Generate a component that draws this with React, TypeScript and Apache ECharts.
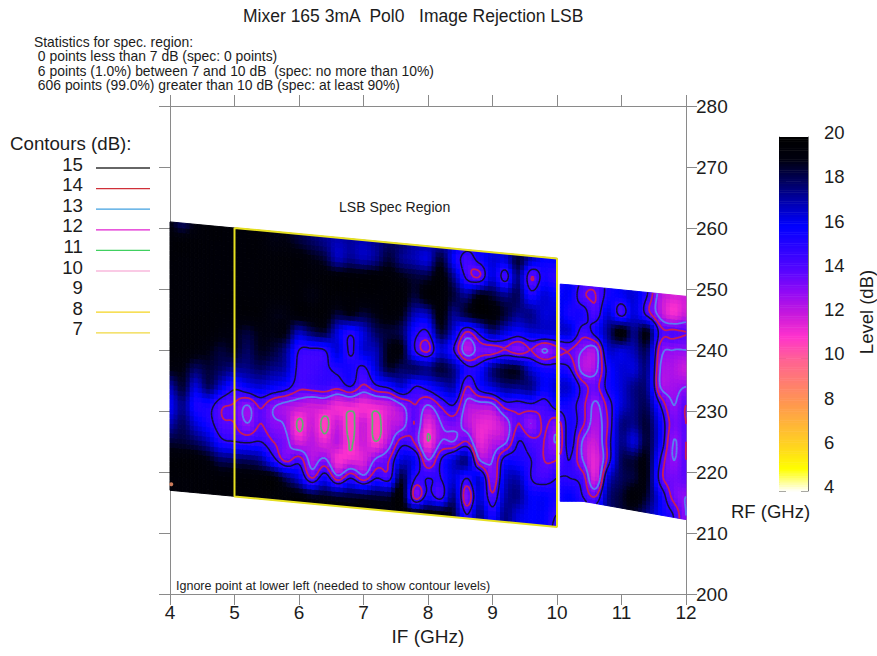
import React, { useEffect, useRef } from "react";
import * as echarts from "echarts";

const TITLE = "Mixer 165 3mA  Pol0   Image Rejection LSB";
const STATS = [
  "Statistics for spec. region:",
  " 0 points less than 7 dB (spec: 0 points)",
  " 6 points (1.0%) between 7 and 10 dB  (spec: no more than 10%)",
  " 606 points (99.0%) greater than 10 dB (spec: at least 90%)",
];
const LEGEND_TITLE = "Contours (dB):";
const legendLevels = [15, 14, 13, 12, 11, 10, 9, 8, 7];
const legendColors = ["#333333", "#d03038", "#40a0e0", "#e020d0", "#40d060", "#f8b8dc", "", "#f4d420", "#f0d840"];
const contourLevels = [15, 14, 13, 12, 11, 10];
const contourColors = ["#14103a", "#c81e58", "#5a7ff0", "#d028c8", "#5fb070", "#ffd0e4"];
const contourWidths = [1.5, 1.8, 1.8, 0.6, 1.7, 1.2];

const rfRows = [261, 258, 255, 252, 249, 246, 243, 240, 237, 234, 231, 228, 225, 222, 219, 216, 213, 210];
// columns: IF = 4.0, 4.2 ... 12.0
const r261 = [19,18,19,19.5,19.5,19.5,19.5,19.5,19,19,18.5,18,18,18,18,18,18,18,18,18,18,17,17,17,17,17,17,17,17,17,17,16,16,16,16,16,16,16,16,16,16];
const r258 = [19.5,19.5,19.5,19.5,19.5,19.5,19.5,19.5,19,19,18.5,18,17.5,17,17.3,17,17.5,18,18,17.5,17.5,17,17,16,16,16,16,17,17,17,17,15,15,15,16,16,16,16,15,15,15];
const r255 = [19.5,19.5,19.5,19.5,19.5,19.5,19.5,19.5,19.5,19.5,19.5,19,18.5,17,17.5,17,17.5,18.5,17.5,17,16.5,18.5,16,14.5,15.5,16.5,16.5,18.5,17,16,16,15,15,15,16,16,16,16,15,15,15];
const r252 = [19.5,19.5,19.5,19.5,19.5,19.5,19.5,19.5,19.5,19.5,19.5,19.5,19.5,19.5,19.5,19.5,19.5,19.5,19,18.5,18.5,19.5,17.5,14.7,14,16.5,14.5,17.5,14,15.5,15,16,15,14.5,15.5,16,16,15.5,13.5,13,13.5];
const r249 = [19.5,19.5,19.5,19.5,19.5,19.5,19.5,19.5,19.5,19.5,19.5,19,19.5,19.5,19.5,19.5,19.5,19.5,19.5,18.5,19.5,19.5,18.5,17.5,19,18.5,17.5,18,15.5,16.5,16,16,14.2,14,15.5,16,16.5,15,12.5,11.8,12];
const r246 = [19.5,19.5,19.5,19.5,19.5,19.5,19.5,19.5,19,19,19.5,19.5,19.5,18.5,19,18.5,19,19.5,19,17,17,19.5,17.5,18.5,19.5,19.5,18.5,17.5,17.5,16.5,16.5,15.5,15.5,14.3,16.5,14.5,16.5,14.5,12.5,11.2,12];
const r243 = [19.5,19.5,19.5,19.5,19.2,19,18.5,19,19,19,17,18,18.5,16.5,15.3,16.5,18,18.5,18,15.5,15,18.5,16.5,14,15.5,17.5,16.5,15.8,16.5,16.5,16.5,16.5,14.5,15.5,17.5,19.5,17.5,19,14.5,14.2,14];
const r240 = [19.5,19.5,19.3,19,18.5,18.8,18,18.8,18.5,17.5,15,14.8,15,16.5,14.8,16.5,17,19,19,15,13.8,16.5,15,12.3,13.5,13.5,14,13.3,14,12.9,13.7,14,13,12.7,16.5,16.5,17,18,13.5,13,13];
const r237 = [19,19,18,18.5,18,17.5,17.5,18,17.5,17,14.6,14.5,14.8,15.3,15.5,14.8,16.5,18.5,18,18,17.5,18.5,17.5,15.3,15.5,17.5,18.5,18.5,16.5,15.5,15.5,15,12.5,12.7,15.5,16.5,16.5,17.5,13,12.5,12];
const r234 = [17,18.5,16.5,18,16.5,15.3,16,16.5,16,15.5,14.3,14.4,14.6,14.3,15,13.8,14.8,15.3,16.5,15,15.5,16.5,17,14,15.5,16.5,17.5,17.5,17.5,16,16.5,16.5,14.5,13.7,15.5,16.5,17.5,17.5,13,12.7,13];
const r231 = [16,17.5,15.5,15.5,14.2,13.9,13,14.2,13.2,12.7,12.3,12,12,11.3,11.5,11.2,11.5,12,13,14,13,14.2,15,12.7,12.6,12.8,14.5,14.5,14.8,14.5,15.5,15.5,14.3,12.8,14.5,16.5,17.5,18,15,13,14];
const r228 = [17,18,16.5,15.5,14.2,14,13,14,13.2,12.8,10.8,12,10.7,12,10.7,12,10.7,12,12.5,14,11.5,13,13.5,12.5,11.5,11.5,12.5,14,13,14.2,13.5,15.5,14.2,12.5,14.2,17.5,17.5,18.5,16,13.5,14];
const r225 = [18.5,18.5,18,17,15.3,15,14.8,15,14,13.3,11.8,12.3,11.5,12.3,10.9,12,11,12.5,14.5,13.8,11,13,13,14,11.5,12.2,12.8,15,14.3,14,13,15.5,12.9,12,14.5,17.5,16.5,18.5,16,13,14];
const r222 = [19.5,19.5,19.5,19,18,18,18,17.5,15.5,13.7,14.5,12.5,13.2,11.2,11.5,11.7,13.2,14,16.5,16,13,15,16.5,17.5,13,13,15.5,15.5,15,14,14,15,13,11.5,14.5,18,18.5,19,15,13,14];
const r219 = [19.5,19.5,19.5,19.5,19.5,19.5,19.5,19.5,19.5,18,16.5,14,15.8,13.5,15,13.5,15,14.6,18.5,15,15,15,16.5,15,16.5,13.3,16.5,17,15,14.5,15,15,14.5,11.8,16.5,18,18.5,19,14.5,13.5,13.8];
const r216 = [19.5,19.5,19.5,19.5,19.5,19.5,19.5,19.5,19.5,19.5,19.5,18.8,18.8,18.5,18.5,18.5,18.5,18.5,19.5,13.5,15.5,14.5,17.5,13.2,16.5,14.2,17,17.5,16,16,15.5,16,15,14,17.5,18.5,19.5,18.5,16,13.7,13];
const r213 = [19.5,19.5,19.5,19.5,19.5,19.5,19.5,19.5,19.5,19.5,19.5,19.5,19.5,19.5,19.5,19.5,19.5,19.5,19.5,19.5,19.5,19.5,18.5,15,17.5,15.5,17.5,16.5,16,16,15,16,16,16,17.5,18.5,18.5,17.5,16,15,13];
const r210 = [19.5,19.5,19.5,19.5,19.5,19.5,19.5,19.5,19.5,19.5,19.5,19.5,19.5,19.5,19.5,19.5,19.5,19.5,19.5,19.5,19,18.5,18,16,17.5,16,17.5,16.5,16,16,14.5,16,16,16,17.5,18.5,18.5,17.5,16,15,13];
const levelRows = [r261, r258, r255, r252, r249, r246, r243, r240, r237, r234, r231, r228, r225, r222, r219, r216, r213, r210];

const IF_START = 4;
const IF_STEP = 0.2;

// Measured outline of the two scanned sections
const leftIF = [4, 10];
const leftTop = [261, 255];
const leftBottom = [217, 211.1];
const rightIF = [10.05, 10.4, 12];
const rightTop = [250.8, 250.5, 248.8];
const rightBottom = [215.2, 215.2, 212.2];

const specIF = [5, 10, 10, 5, 5];
const specRF = [260, 255, 211, 216, 260];
const ignorePoint = [4.02, 218];

const colorStops: [number, number[]][] = [
  [4, [255, 255, 255]],
  [5, [255, 255, 0]],
  [6, [255, 214, 30]],
  [8, [255, 150, 80]],
  [10, [255, 96, 150]],
  [11, [255, 50, 205]],
  [12, [200, 25, 220]],
  [13, [145, 10, 245]],
  [14, [85, 5, 255]],
  [16, [0, 0, 255]],
  [17, [0, 0, 180]],
  [18, [0, 0, 95]],
  [19, [0, 0, 15]],
  [20, [0, 0, 0]],
];

function colorOf(v: number) {
  if (v <= colorStops[0][0]) return "rgb(255,255,255)";
  for (let i = 1; i < colorStops.length; i++) {
    if (v <= colorStops[i][0]) {
      const [a, ca] = colorStops[i - 1];
      const [b, cb] = colorStops[i];
      const t = (v - a) / (b - a);
      return `rgb(${ca.map((c, k) => Math.round(c + (cb[k] - c) * t)).join(",")})`;
    }
  }
  return "rgb(0,0,0)";
}

function cr(p0: number, p1: number, p2: number, p3: number, t: number) {
  return 0.5 * (2 * p1 + (p2 - p0) * t + (2 * p0 - 5 * p1 + 4 * p2 - p3) * t * t + (3 * p1 - p0 - 3 * p2 + p3) * t * t * t);
}
function level(ifv: number, rf: number) {
  const nc = r261.length;
  const nr = rfRows.length;
  const fx = Math.max(0, Math.min(nc - 1.0001, (ifv - IF_START) / IF_STEP));
  const fy = Math.max(0, Math.min(nr - 1.0001, (rfRows[0] - rf) / (rfRows[0] - rfRows[1])));
  const ix = Math.floor(fx);
  const iy = Math.floor(fy);
  const tx = fx - ix;
  const ty = fy - iy;
  const g = (r: number, c: number) => levelRows[Math.max(0, Math.min(nr - 1, r))][Math.max(0, Math.min(nc - 1, c))];
  const row = (r: number) => cr(g(r, ix - 1), g(r, ix), g(r, ix + 1), g(r, ix + 2), tx);
  return cr(row(iy - 1), row(iy), row(iy + 1), row(iy + 2), ty);
}
function lerpTable(xs: number[], ys: number[], x: number) {
  for (let i = 1; i < xs.length; i++) {
    if (x <= xs[i]) return ys[i - 1] + ((ys[i] - ys[i - 1]) * (x - xs[i - 1])) / (xs[i] - xs[i - 1]);
  }
  return ys[ys.length - 1];
}

type Section = { xs: number[]; top: number[]; bottom: number[]; cols: number };
const sections: Section[] = [
  { xs: leftIF, top: leftTop, bottom: leftBottom, cols: 96 },
  { xs: rightIF, top: rightTop, bottom: rightBottom, cols: 32 },
];
const ROWS = 56;

function meshPoint(s: Section, i: number, j: number, cols: number, rows: number) {
  const x = s.xs[0] + ((s.xs[s.xs.length - 1] - s.xs[0]) * i) / cols;
  const top = lerpTable(s.xs, s.top, x);
  const bottom = lerpTable(s.xs, s.bottom, x);
  return [x, bottom + ((top - bottom) * j) / rows];
}

const strips: number[][] = [];
sections.forEach((s, si) => {
  for (let i = 0; i < s.cols; i++) strips.push([s.xs[0], 0, si, i]);
});

function contourSegments(level0: number, s: Section) {
  const cols = s.cols * 2;
  const rows = ROWS * 2;
  const pts: number[][][] = [];
  const vals: number[][] = [];
  for (let i = 0; i <= cols; i++) {
    pts.push([]);
    vals.push([]);
    for (let j = 0; j <= rows; j++) {
      const p = meshPoint(s, i, j, cols, rows);
      pts[i].push(p);
      vals[i].push(level(p[0], p[1]));
    }
  }
  const segs: number[][][] = [];
  const edge = (a: number[], b: number[], va: number, vb: number) => {
    const t = (level0 - va) / (vb - va);
    return [a[0] + (b[0] - a[0]) * t, a[1] + (b[1] - a[1]) * t];
  };
  for (let i = 0; i < cols; i++) {
    for (let j = 0; j < rows; j++) {
      const q = [pts[i][j], pts[i + 1][j], pts[i + 1][j + 1], pts[i][j + 1]];
      const v = [vals[i][j], vals[i + 1][j], vals[i + 1][j + 1], vals[i][j + 1]];
      const cross: number[][] = [];
      for (let k = 0; k < 4; k++) {
        const n = (k + 1) % 4;
        if (v[k] < level0 !== v[n] < level0) cross.push(edge(q[k], q[n], v[k], v[n]));
      }
      if (cross.length === 2) segs.push([cross[0], cross[1]]);
      else if (cross.length === 4) {
        segs.push([cross[0], cross[1]]);
        segs.push([cross[2], cross[3]]);
      }
    }
  }
  return segs;
}

echarts.graphic.registerShape(
  "contourSegs",
  echarts.graphic.extendShape({
    shape: { segs: [] as number[][][] },
    buildPath(ctx: any, shape: any) {
      for (const s of shape.segs) {
        ctx.moveTo(s[0][0], s[0][1]);
        ctx.lineTo(s[1][0], s[1][1]);
      }
    },
  }) as any
);

const FONT = "'Liberation Sans', Arial, sans-serif";
const TEXT = "#1c1c1c";
const AXIS = "#8a8a8a";

export default function App() {
  const ref = useRef<HTMLDivElement>(null);
  useEffect(() => {
    const chart = echarts.init(ref.current!, undefined, { renderer: "svg" });
    const contourData = contourLevels.map((l, i) => [4, 0, i, l]);
    const scaleSteps: number[][] = [];
    for (let k = 0; k < 160; k++) scaleSteps.push([0, 4 + k * 0.1]);

    const graphics: any[] = [];
    graphics.push({ type: "text", left: 243, top: 7, style: { text: TITLE, font: `17.5px ${FONT}`, fill: TEXT } });
    STATS.forEach((t, i) => {
      graphics.push({ type: "text", x: 34, y: 42 + i * 14.4, style: { text: t, font: `13.9px ${FONT}`, fill: TEXT, verticalAlign: "middle" } });
    });
    graphics.push({ type: "text", x: 10, y: 143, style: { text: LEGEND_TITLE, font: `18.7px ${FONT}`, fill: TEXT, verticalAlign: "middle" } });
    legendLevels.forEach((l, i) => {
      const y = 164 + i * 20.6;
      graphics.push({ type: "text", x: 83, y, style: { text: String(l), font: `18.7px ${FONT}`, fill: TEXT, align: "right", verticalAlign: "middle" } });
      if (legendColors[i]) {
        graphics.push({ type: "line", shape: { x1: 96, y1: y + 4, x2: 150, y2: y + 4 }, style: { stroke: legendColors[i], lineWidth: 1.3 } });
      }
    });
    graphics.push({ type: "text", x: 339, y: 207, style: { text: "LSB Spec Region", font: `14.1px ${FONT}`, fill: TEXT, verticalAlign: "middle" } });
    graphics.push({ type: "text", x: 176, y: 586, style: { text: "Ignore point at lower left (needed to show contour levels)", font: `12.5px ${FONT}`, fill: TEXT, verticalAlign: "middle" } });
    graphics.push({ type: "text", x: 731, y: 511, style: { text: "RF (GHz)", font: `18.5px ${FONT}`, fill: TEXT, verticalAlign: "middle" } });
    graphics.push({ type: "text", x: 866, y: 312, rotation: Math.PI / 2, style: { text: "Level (dB)", font: `18.5px ${FONT}`, fill: TEXT, align: "center", verticalAlign: "middle" } });

    const axisBase = {
      axisLine: { show: true, onZero: false, lineStyle: { color: AXIS, width: 1 } },
      axisTick: { show: true, length: 11, lineStyle: { color: AXIS, width: 1 } },
      splitLine: { show: false },
    };

    chart.setOption({
      animation: false,
      backgroundColor: "#ffffff",
      textStyle: { fontFamily: FONT },
      grid: [
        { left: 170, top: 106, width: 516, height: 488 },
        { left: 779, top: 137, width: 29, height: 354 },
      ],
      xAxis: [
        { ...axisBase, type: "value", gridIndex: 0, position: "bottom", min: 4, max: 12, interval: 1,
          name: "IF (GHz)", nameLocation: "middle", nameGap: 33, nameTextStyle: { fontSize: 19, color: TEXT },
          axisLabel: { fontSize: 19, color: TEXT, margin: 9 } },
        { ...axisBase, type: "value", gridIndex: 0, position: "top", min: 4, max: 12, interval: 1, axisLabel: { show: false } },
        { type: "value", gridIndex: 1, min: 0, max: 1, show: false },
      ],
      yAxis: [
        { ...axisBase, type: "value", gridIndex: 0, position: "right", min: 200, max: 280, interval: 10,
          axisLabel: { fontSize: 19, color: TEXT, margin: 10 } },
        { ...axisBase, type: "value", gridIndex: 0, position: "left", min: 200, max: 280, interval: 10, axisLabel: { show: false } },
        { type: "value", gridIndex: 1, position: "right", min: 4, max: 20, interval: 2,
          axisLine: { show: true, onZero: false, lineStyle: { color: "#777", width: 1 } },
          axisTick: { show: true, inside: true, length: 7, lineStyle: { color: "#555", width: 1 } },
          splitLine: { show: false },
          axisLabel: { fontSize: 18.5, color: TEXT, margin: 16, verticalAlign: "bottom", lineHeight: 9 } },
        { type: "value", gridIndex: 1, position: "left", min: 4, max: 20, interval: 2,
          axisLine: { show: true, onZero: false, lineStyle: { color: "#777", width: 1 } },
          axisTick: { show: true, inside: true, length: 7, lineStyle: { color: "#555", width: 1 } },
          splitLine: { show: false }, axisLabel: { show: false } },
      ],
      graphic: graphics,
      series: [
        {
          type: "custom", xAxisIndex: 0, yAxisIndex: 0, data: strips, silent: true, clip: false, z: 1,
          renderItem: (params: any, api: any) => {
            const si = api.value(2);
            const i = api.value(3);
            const s = sections[si];
            const children: any[] = [];
            for (let j = 0; j < ROWS; j++) {
              const a = meshPoint(s, i, j, s.cols, ROWS);
              const b = meshPoint(s, i + 1, j, s.cols, ROWS);
              const c = meshPoint(s, i + 1, j + 1, s.cols, ROWS);
              const d = meshPoint(s, i, j + 1, s.cols, ROWS);
              const col = colorOf(level((a[0] + c[0]) / 2, (a[1] + c[1]) / 2));
              children.push({
                type: "polygon",
                shape: { points: [a, b, c, d].map((p) => api.coord(p)) },
                style: { fill: col, stroke: col, lineWidth: 1 },
              });
            }
            return { type: "group", children };
          },
        },
        {
          type: "custom", xAxisIndex: 0, yAxisIndex: 0, data: contourData, silent: true, clip: false, z: 2,
          renderItem: (params: any, api: any) => {
            const idx = api.value(2);
            const lv = api.value(3);
            const segs: number[][][] = [];
            sections.forEach((s) => {
              contourSegments(lv, s).forEach((q) => segs.push([api.coord(q[0]), api.coord(q[1])]));
            });
            return {
              type: "contourSegs",
              shape: { segs },
              style: { fill: "none", stroke: contourColors[idx], lineWidth: contourWidths[idx] },
            };
          },
        },
        {
          type: "line", xAxisIndex: 0, yAxisIndex: 0, z: 3, symbol: "none", silent: true,
          data: specIF.map((x, i) => [x, specRF[i]]),
          lineStyle: { color: "#e6e020", width: 2 },
        },
        {
          type: "scatter", xAxisIndex: 0, yAxisIndex: 0, z: 4, silent: true, symbolSize: 4,
          data: [ignorePoint], itemStyle: { color: "#ff9a70" },
        },
        {
          type: "custom", xAxisIndex: 2, yAxisIndex: 2, data: scaleSteps, silent: true, clip: false, z: 1,
          renderItem: (params: any, api: any) => {
            const v = api.value(1);
            const p0 = api.coord([0, v]);
            const p1 = api.coord([1, v + 0.1]);
            return {
              type: "rect",
              shape: { x: p0[0], y: p1[1], width: p1[0] - p0[0], height: p0[1] - p1[1] + 0.5 },
              style: { fill: colorOf(v + 0.05) },
            };
          },
        },
      ],
    });
    return () => chart.dispose();
  }, []);
  return <div ref={ref} style={{ position: "absolute", left: 0, top: 0, width: 877, height: 656 }} />;
}
